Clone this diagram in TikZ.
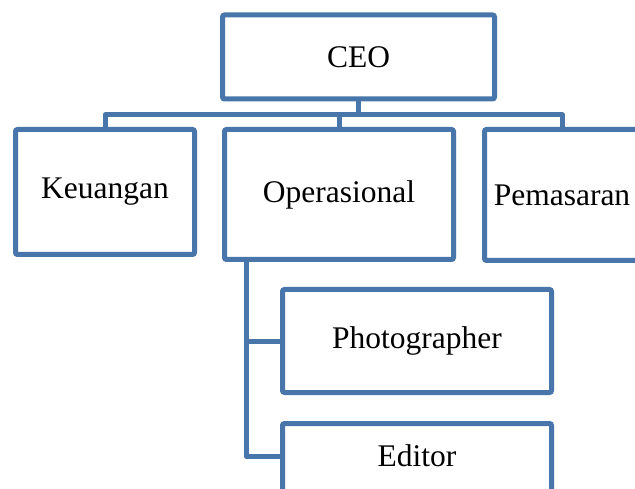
\documentclass[tikz,border=0pt]{standalone}
\usepackage{fontspec}
\setmainfont{Liberation Serif}
\definecolor{boxblue}{RGB}{72,117,170}
\tikzset{
  orgbox/.style={draw=boxblue, fill=white, line width=5pt, rounded corners=2pt,
    inner sep=0pt, font=\fontsize{31.5}{36}\selectfont},
  lbl/.style={inner sep=0pt, font=\fontsize{31.5}{36}\selectfont},
  link/.style={draw=boxblue, line width=5pt, line join=round}
}
\begin{document}
\begin{tikzpicture}[x=1pt,y=-1pt]
\useasboundingbox (0,0) rectangle (635,489);
\clip (0,0) rectangle (635,489);
\fill[white] (0,0) rectangle (635,489);
% boxes
\node[orgbox, minimum width=272pt, minimum height=84pt] (ceo) at (358.5,57) {CEO};
\node[orgbox, minimum width=179pt, minimum height=125pt] (keu) at (105,192) {Keuangan};
\node[orgbox, minimum width=229pt, minimum height=130pt] (ops) at (339,194.5) {Operasional};
\node[orgbox, minimum width=155pt, minimum height=131pt] (pem) at (562,195) {};
\node[lbl] (pemlbl) at (562,195) {Pemasaran};
\node[orgbox, minimum width=269pt, minimum height=103pt] (photo) at (417,341) {Photographer};
\node[orgbox, minimum width=269pt, minimum height=103pt] (editor) at (417,475) {};
\node[lbl] (edlbl) at (417,456) {Editor};
% connector helpers
\coordinate (bus) at (0,115);
\coordinate (trunk) at (246,0);
% connectors
\draw[link] (ceo.south) -- (ceo.south |- bus);
\draw[link] (keu.north) |- (pem.north |- bus) -- (pem.north);
\draw[link] (ops.north) -- (ops.north |- bus);
\draw[link] (ops.south -| trunk) |- (editor.west |- edlbl);
\draw[link] (trunk |- photo.west) -- (photo.west);
\end{tikzpicture}
\end{document}
